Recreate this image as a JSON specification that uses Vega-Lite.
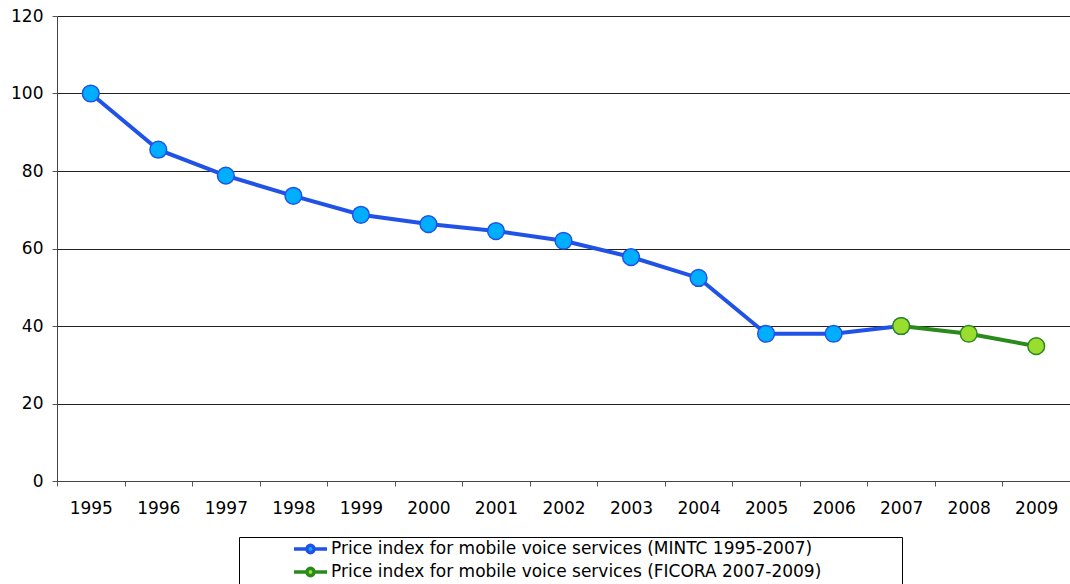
{
  "$schema": "https://vega.github.io/schema/vega-lite/v6.json",
  "width": 1013,
  "height": 465,
  "autosize": {"type": "none"},
  "padding": {"left": 57, "top": 16, "right": 0, "bottom": 103},
  "background": "white",
  "config": {
    "font": "DejaVu Sans",
    "view": {"stroke": null},
    "axis": {"labelFont": "DejaVu Sans", "labelFontSize": 17, "labelColor": "black", "titleFont": "DejaVu Sans"}
  },
  "data": {
    "values": [
      {"year": "1995", "value": 100, "series": "Price index for mobile voice services (MINTC 1995-2007)"},
      {"year": "1996", "value": 85.5, "series": "Price index for mobile voice services (MINTC 1995-2007)"},
      {"year": "1997", "value": 78.8, "series": "Price index for mobile voice services (MINTC 1995-2007)"},
      {"year": "1998", "value": 73.6, "series": "Price index for mobile voice services (MINTC 1995-2007)"},
      {"year": "1999", "value": 68.7, "series": "Price index for mobile voice services (MINTC 1995-2007)"},
      {"year": "2000", "value": 66.3, "series": "Price index for mobile voice services (MINTC 1995-2007)"},
      {"year": "2001", "value": 64.5, "series": "Price index for mobile voice services (MINTC 1995-2007)"},
      {"year": "2002", "value": 62.0, "series": "Price index for mobile voice services (MINTC 1995-2007)"},
      {"year": "2003", "value": 57.8, "series": "Price index for mobile voice services (MINTC 1995-2007)"},
      {"year": "2004", "value": 52.4, "series": "Price index for mobile voice services (MINTC 1995-2007)"},
      {"year": "2005", "value": 38.0, "series": "Price index for mobile voice services (MINTC 1995-2007)"},
      {"year": "2006", "value": 38.0, "series": "Price index for mobile voice services (MINTC 1995-2007)"},
      {"year": "2007", "value": 40.0, "series": "Price index for mobile voice services (MINTC 1995-2007)"},
      {"year": "2007", "value": 40.0, "series": "Price index for mobile voice services (FICORA 2007-2009)"},
      {"year": "2008", "value": 38.0, "series": "Price index for mobile voice services (FICORA 2007-2009)"},
      {"year": "2009", "value": 34.8, "series": "Price index for mobile voice services (FICORA 2007-2009)"}
    ]
  },
  "encoding": {
    "x": {
      "field": "year", "type": "ordinal", "title": null,
      "scale": {"paddingInner": 0, "paddingOuter": 0},
      "axis": {"labelAngle": 0, "tickBand": "extent", "tickSize": 5, "tickColor": "#555", "domainColor": "#444", "labelPadding": 14, "grid": false}
    },
    "y": {
      "field": "value", "type": "quantitative", "title": null,
      "scale": {"domain": [0, 120]},
      "axis": {"values": [0, 20, 40, 60, 80, 100, 120], "tickSize": 5, "tickColor": "#555", "domainColor": "#444", "gridColor": "#222", "gridOpacity": 1, "labelPadding": 9}
    }
  },
  "layer": [
    {
      "mark": {"type": "line", "strokeWidth": 4},
      "encoding": {
        "stroke": {
          "field": "series", "type": "nominal",
          "scale": {
            "domain": ["Price index for mobile voice services (MINTC 1995-2007)", "Price index for mobile voice services (FICORA 2007-2009)"],
            "range": ["#2152E8", "#2A8A1C"]
          },
          "legend": {
            "title": "\u00a0", "titleOrient": "right", "titlePadding": 78, "titleFontSize": 10,
            "orient": "none", "legendX": 182, "legendY": 521,
            "strokeColor": "black", "padding": 3, "symbolOffset": 50,
            "labelFontSize": 17, "labelFont": "DejaVu Sans", "labelColor": "black", "labelLimit": 0,
            "symbolType": "M-1,0H-0.22M0.22,0H1M0.22,0A0.22,0.22 0 1,1 -0.22,0A0.22,0.22 0 1,1 0.22,0",
            "symbolSize": 1089, "symbolStrokeWidth": 3.5, "rowPadding": 5, "clipHeight": 18, "labelOffset": 2
          }
        }
      }
    },
    {
      "mark": {"type": "point", "filled": true, "size": 280, "strokeWidth": 1.5, "opacity": 1},
      "encoding": {
        "stroke": {"field": "series", "type": "nominal"},
        "fill": {
          "field": "series", "type": "nominal",
          "scale": {
            "domain": ["Price index for mobile voice services (MINTC 1995-2007)", "Price index for mobile voice services (FICORA 2007-2009)"],
            "range": ["#00AEFF", "#9ADD2E"]
          },
          "legend": null
        }
      }
    }
  ]
}
